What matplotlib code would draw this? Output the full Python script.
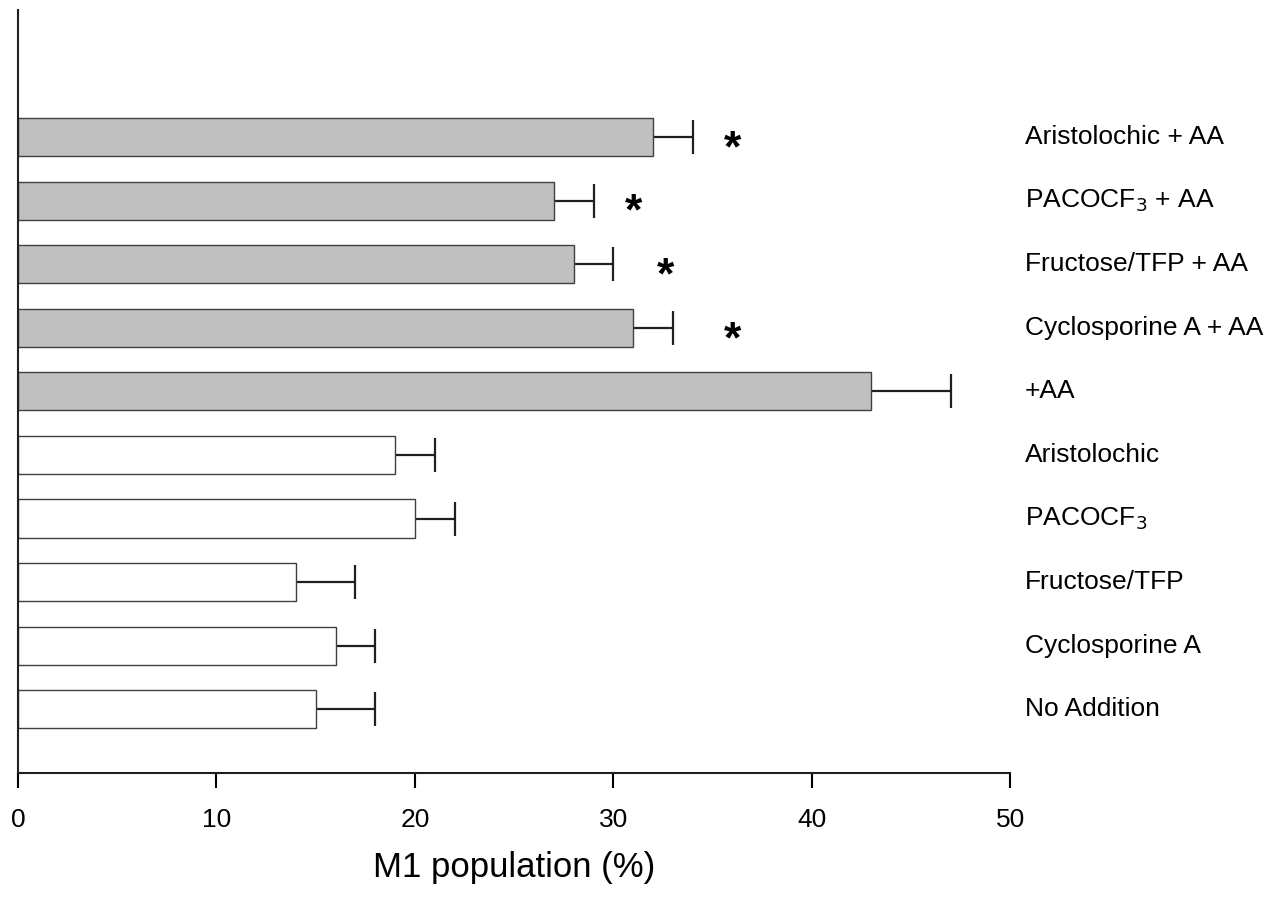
import matplotlib.pyplot as plt

plt.rcParams['font.family'] = ['Liberation Sans', 'DejaVu Sans']

# bottom to top
labels = ['No Addition', 'Cyclosporine A', 'Fructose/TFP', 'PACOCF$_3$', 'Aristolochic',
          '+AA', 'Cyclosporine A + AA', 'Fructose/TFP + AA', 'PACOCF$_3$ + AA', 'Aristolochic + AA']
values = [15, 16, 14, 20, 19, 43, 31, 28, 27, 32]
errors = [3, 2, 3, 2, 2, 4, 2, 2, 2, 2]
star_x = [None, None, None, None, None, None, 36, 32.6, 31, 36]
colors = ['white'] * 5 + ['#c0c0c0'] * 5


def main():
    fig = plt.figure(figsize=(12.87, 9.06), dpi=100)
    ax = fig.add_axes([0.014, 0.147, 0.771, 0.842])

    pos = list(range(len(values)))
    ax.barh(pos, values, height=0.6, color=colors, edgecolor='#404040',
            linewidth=1.0, zorder=2)
    ax.errorbar(values, pos, xerr=errors, fmt='none', ecolor='#202020',
                elinewidth=1.6, capsize=12, capthick=1.6, zorder=1)

    for p, lab in zip(pos, labels):
        ax.text(50.75, p, lab, fontsize=19, va='center', ha='left', clip_on=False)
    for p, sx in zip(pos, star_x):
        if sx is not None:
            ax.text(sx, p - 0.2, '*', fontsize=32, fontweight='bold', ha='center', va='center')

    ax.set_xlim(0, 50)
    ax.set_ylim(-1, 11)
    ax.set_xticks([0, 10, 20, 30, 40, 50])
    ax.set_yticks([])
    ax.tick_params(axis='x', direction='out', length=11, width=1.5, labelsize=19, pad=14)
    for s in ['top', 'right']:
        ax.spines[s].set_visible(False)
    for s in ['left', 'bottom']:
        ax.spines[s].set_linewidth(1.5)
        ax.spines[s].set_color('#202020')
    ax.set_xlabel('M1 population (%)', fontsize=25, labelpad=14)

    fig.savefig('out.png', dpi=100)


if __name__ == "__main__":
    main()
